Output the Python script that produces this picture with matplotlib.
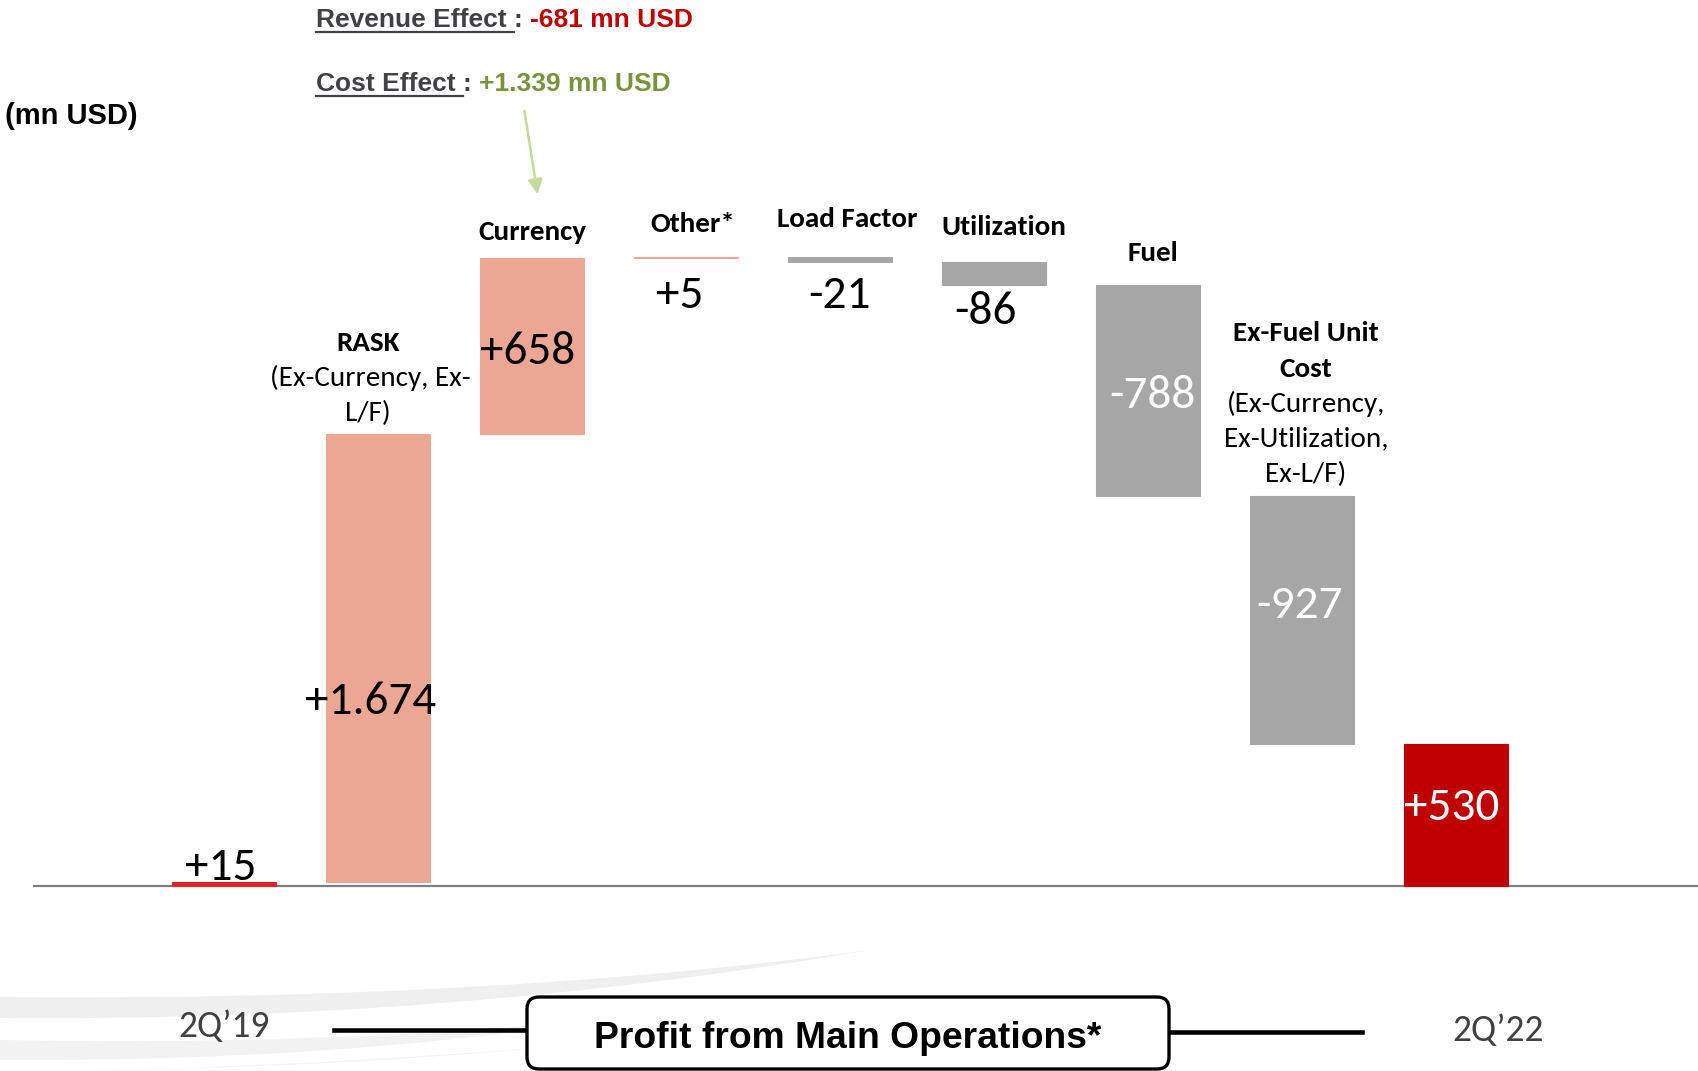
import matplotlib
matplotlib.use('Agg')
from matplotlib import pyplot as plt
from matplotlib import font_manager
import matplotlib.transforms as mtransforms
from matplotlib.patches import FancyBboxPatch, PathPatch
from matplotlib.path import Path

# data
steps = ['2Q\u201919', 'RASK', 'Currency', 'Other*', 'Load Factor', 'Utilization',
         'Fuel', 'Ex-Fuel Unit Cost', '2Q\u201922']
values = [15, 1674, 658, 5, -21, -86, -788, -927, 530]
kinds = ['total', 'delta', 'delta', 'delta', 'delta', 'delta', 'delta', 'delta', 'total']

revenue_effect = -681
cost_effect = 1339

names = {f.name for f in font_manager.fontManager.ttflist}
CAL = 'Carlito' if 'Carlito' in names else 'Lato'
NARROW = 'Liberation Sans Narrow' if 'Liberation Sans Narrow' in names else 'Liberation Sans'

W, H = 1698, 1071
fig = plt.figure(figsize=(W / 100, H / 100), dpi=100)
ax = fig.add_axes([0, 0, 1, 1])
ax.set_xlim(-1.456, 9.572)
ax.set_ylim(-691.6, 3312)
ax.axis('off')

# pixel coords, origin top-left
pix = mtransforms.Affine2D().scale(1, -1).translate(0, H)

def fmt(v):
    return '{:+,}'.format(v).replace(',', '.')

# waterfall bars
bottoms, heights, colors = [], [], []
run = 0
for i, (v, k) in enumerate(zip(values, kinds)):
    if i == 0:
        bottoms.append(0); heights.append(v); colors.append('#d9262e')
        run = v
    elif k == 'total':
        bottoms.append(0); heights.append(v); colors.append('#c00000')
    else:
        if v >= 0:
            bottoms.append(run); heights.append(v); colors.append('#eba793')
        else:
            bottoms.append(run + v); heights.append(-v); colors.append('#a6a6a6')
        run += v

xs = list(range(len(values)))
ax.bar(xs, heights, bottom=bottoms, width=0.675, color=colors,
       edgecolor=colors, linewidth=0.8, zorder=3)
ax.plot([-1.236, 9.572], [0, 0], color='#7f7f7f', lw=1.6, zorder=2)

# value labels
val_pos = [(221, 867), (371, 701), (528, 351), (680, 295), (839, 296),
           (985, 312), (1152, 395), (1299, 605), (1452, 807)]
val_col = ['black'] * 6 + ['white'] * 3
for v, (px, py), c in zip(values, val_pos, val_col):
    ax.text(px, py, fmt(v), transform=pix, ha='center', va='center',
            fontsize=34, family=CAL, color=c, zorder=5)

# category labels
cat_lbl = [
    ('Currency', 532, 232, 'bold'), ('Other*', 693, 224, 'bold'),
    ('Load Factor', 847, 219, 'bold'), ('Utilization', 1004, 227, 'bold'),
    ('Fuel', 1153, 253, 'bold'),
    ('RASK', 368, 343, 'bold'), ('(Ex-Currency, Ex-', 370, 378, 'normal'),
    ('L/F)', 368, 413, 'normal'),
    ('Ex-Fuel Unit', 1306, 333, 'bold'), ('Cost', 1306, 369, 'bold'),
    ('(Ex-Currency,', 1306, 404, 'normal'), ('Ex-Utilization,', 1306, 439, 'normal'),
    ('Ex-L/F)', 1306, 474, 'normal'),
]
for s, px, py, w in cat_lbl:
    ax.text(px, py, s, transform=pix, ha='center', va='center', fontsize=21,
            family=CAL, fontweight=w, color='black')

ax.text(5, 116, '(mn USD)', transform=pix, ha='left', va='center', fontsize=21,
        family=NARROW, fontweight='bold', color='black')

# revenue / cost effect
t1 = ax.text(316, 20, 'Revenue Effect ', transform=pix, ha='left', va='center',
             fontsize=19, family=NARROW, fontweight='bold', color='#404046')
t2 = ax.annotate(': ', xy=(1, 0.5), xycoords=t1, ha='left', va='center',
                 fontsize=19, family=NARROW, fontweight='bold', color='#404046')
ax.annotate(fmt(revenue_effect) + ' mn USD', xy=(1, 0.5), xycoords=t2, ha='left',
            va='center', fontsize=19, family=NARROW, fontweight='bold', color='#c00000')
t3 = ax.text(316, 84, 'Cost Effect ', transform=pix, ha='left', va='center',
             fontsize=19, family=NARROW, fontweight='bold', color='#404046')
t4 = ax.annotate(': ', xy=(1, 0.5), xycoords=t3, ha='left', va='center',
                 fontsize=19, family=NARROW, fontweight='bold', color='#404046')
ax.annotate(fmt(cost_effect) + ' mn USD', xy=(1, 0.5), xycoords=t4,
            ha='left', va='center', fontsize=19, family=NARROW, fontweight='bold',
            color='#77933c')

fig.canvas.draw()
for t, uy in [(t1, 32), (t3, 96)]:
    bb = t.get_window_extent()
    ax.plot([bb.x0, bb.x1], [uy, uy], transform=pix, color='#404046', lw=1.6)

ax.annotate('', xy=(538, 197), xytext=(524, 108), xycoords=pix, textcoords=pix,
            arrowprops=dict(arrowstyle='-|>', color='#c3dc9b', lw=1.8,
                            mutation_scale=22))

# background swooshes
def swoosh(top, bot, color):
    verts = [top[0], top[1], top[2], bot[1], bot[0], top[0]]
    codes = [Path.MOVETO, Path.CURVE3, Path.CURVE3, Path.CURVE3, Path.CURVE3, Path.CLOSEPOLY]
    ax.add_patch(PathPatch(Path(verts, codes), transform=pix, facecolor=color,
                           edgecolor='none', zorder=0))

swoosh([(0, 997), (480, 1002), (870, 950)], [(0, 1018), (450, 1022)], '#efefef')
swoosh([(0, 1040), (320, 1046), (600, 1020)], [(0, 1060), (330, 1062)], '#f2f2f2')
swoosh([(0, 1071), (250, 1071), (560, 1046)], [(0, 1071), (300, 1071)], '#f2f2f2')

# bottom box
ax.plot([334, 526], [1030, 1030], transform=pix, color='black', lw=3.3, zorder=4)
ax.plot([1170, 1362], [1032, 1032], transform=pix, color='black', lw=3.3, zorder=4)
box = FancyBboxPatch((527, 997), 642, 72, boxstyle='round,pad=0,rounding_size=12',
                     transform=pix, facecolor='white', edgecolor='black', lw=2.4, zorder=4)
ax.add_patch(box)
ax.text(848, 1038, 'Profit from Main Operations*', transform=pix, ha='center',
        va='center', fontsize=26.8, family=NARROW, fontweight='bold', zorder=5)
ax.text(224, 1027, steps[0], transform=pix, ha='center', va='center', fontsize=27,
        family=CAL, color='#404040')
ax.text(1498, 1031, steps[-1], transform=pix, ha='center', va='center', fontsize=27,
        family=CAL, color='#404040')

fig.savefig('out.png', dpi=100)
